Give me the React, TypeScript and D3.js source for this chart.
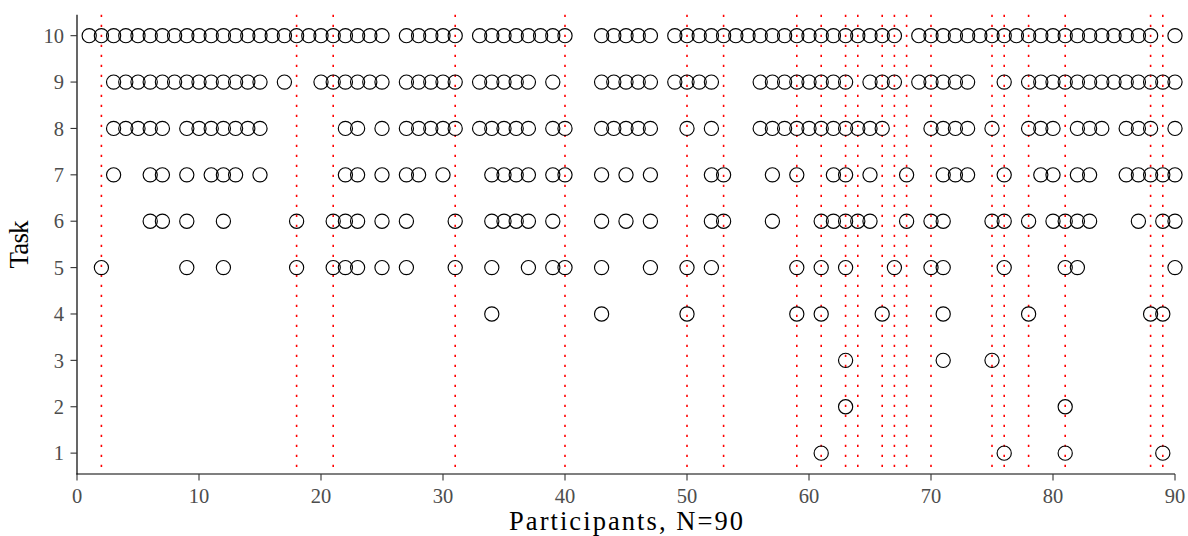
import React from "react";
import * as d3 from "d3";

const WIDTH = 1188;
const HEIGHT = 536;

// participants (1..90) with a point, per task
const task10 = [1,2,3,4,5,6,7,8,9,10,11,12,13,14,15,16,17,18,19,20,21,22,23,24,25,27,28,29,30,31,33,34,35,36,37,38,39,40,43,44,45,46,47,49,50,51,52,53,54,55,56,57,58,59,60,61,62,63,64,65,66,67,69,70,71,72,73,74,75,76,77,78,79,80,81,82,83,84,85,86,87,88,90];
const task9 = [3,4,5,6,7,8,9,10,11,12,13,14,15,17,20,21,22,23,24,25,27,28,29,30,31,33,34,35,36,37,39,43,44,45,46,47,49,50,51,52,56,57,58,59,60,61,62,63,65,66,67,69,70,71,72,73,76,78,79,80,81,82,83,84,85,86,87,88,89,90];
const task8 = [3,4,5,6,7,9,10,11,12,13,14,15,22,23,25,27,28,29,30,31,33,34,35,36,37,39,40,43,44,45,46,47,50,52,56,57,58,59,60,61,62,63,64,65,66,70,71,72,73,75,78,79,80,82,83,84,86,87,88,90];
const task7 = [3,6,7,9,11,12,13,15,22,23,25,27,28,30,34,35,36,37,39,40,43,45,47,52,53,57,59,62,63,65,68,71,72,73,76,79,80,82,83,86,87,88,89,90];
const task6 = [6,7,9,12,18,21,22,23,25,27,31,34,35,36,37,39,43,45,47,52,53,57,61,62,63,64,65,68,70,71,75,76,78,80,81,82,83,87,89,90];
const task5 = [2,9,12,18,21,22,23,25,27,31,34,37,39,40,43,47,50,52,59,61,63,67,70,71,76,81,82,90];
const task4 = [34,43,50,59,61,66,71,78,88,89];
const task3 = [63,71,75];
const task2 = [63,81];
const task1 = [61,76,81,89];

// participants marked with red dotted vertical lines
const markedParticipants = [2,18,21,31,40,50,53,59,61,63,64,66,67,68,70,75,76,78,81,88,89];

const xTicks = [0,10,20,30,40,50,60,70,80,90];
const yTicks = [1,2,3,4,5,6,7,8,9,10];

const tasks: [number, number[]][] = [
  [10, task10], [9, task9], [8, task8], [7, task7], [6, task6],
  [5, task5], [4, task4], [3, task3], [2, task2], [1, task1],
];

const FONT = "'Liberation Serif', 'DejaVu Serif', serif";

export default function App() {
  const left = 77, right = 1175, top = 14.8, bottom = 474;
  const x = d3.scaleLinear().domain([0, 90]).range([left, right]);
  const y = d3.scaleLinear().domain([0.55, 10.45]).range([bottom, top]);

  const points = tasks.flatMap(([t, ps]) => ps.map((p) => ({ t, p })));

  return (
    <div style={{ position: "absolute", left: 0, top: 0 }}>
      <svg width={WIDTH} height={HEIGHT} style={{ display: "block", background: "#fff" }}>
        {/* red dotted lines */}
        {markedParticipants.map((p) => (
          <line key={"m" + p} x1={x(p)} x2={x(p)} y1={top} y2={bottom}
            stroke="#ff0000" strokeWidth={1.6} strokeDasharray="2.2 7.8" />
        ))}
        {/* points */}
        {points.map(({ t, p }) => (
          <circle key={t + "-" + p} cx={x(p)} cy={y(t)} r={7.1}
            fill="none" stroke="#000" strokeWidth={1.15} />
        ))}
        {/* axes */}
        <line x1={left} x2={left} y1={top} y2={bottom + 0.6} stroke="#000" strokeWidth={1.2} />
        <line x1={left - 0.6} x2={right} y1={bottom} y2={bottom} stroke="#000" strokeWidth={1.2} />
        {xTicks.map((v) => (
          <g key={"xt" + v}>
            <line x1={x(v)} x2={x(v)} y1={bottom} y2={bottom + 6.5} stroke="#333" strokeWidth={1.1} />
            <text x={x(v)} y={503} textAnchor="middle" fontFamily={FONT} fontSize={20.5} fill="#4d4d4d">{v}</text>
          </g>
        ))}
        {yTicks.map((v) => (
          <g key={"yt" + v}>
            <line x1={left - 6.5} x2={left} y1={y(v)} y2={y(v)} stroke="#333" strokeWidth={1.1} />
            <text x={64} y={y(v)} dy="0.35em" textAnchor="end" fontFamily={FONT} fontSize={20.5} fill="#4d4d4d">{v}</text>
          </g>
        ))}
        <text x={(left + right) / 2} y={529.5} textAnchor="middle" fontFamily={FONT} fontSize={26.5}
          textLength={234} lengthAdjust="spacing" fill="#000">Participants, N=90</text>
        <text transform={`translate(28, ${(top + bottom) / 2}) rotate(-90)`} textAnchor="middle" fontFamily={FONT} fontSize={27}
          textLength={48} lengthAdjust="spacing" fill="#000">Task</text>
      </svg>
    </div>
  );
}
